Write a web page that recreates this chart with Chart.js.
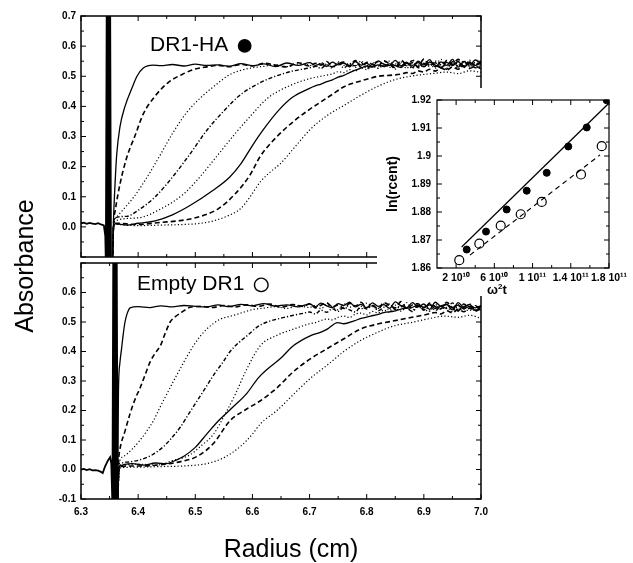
<!DOCTYPE html>
<html lang="en">
<head>
<meta charset="UTF-8">
<title>Sedimentation velocity: DR1-HA and empty DR1</title>
<script src="https://cdn.jsdelivr.net/npm/chart.js"></script>
<style>
    body {
        margin: 0;
        width: 633px;
        height: 563px;
        position: relative;
        overflow: hidden;
        background: #fff;
        color: #000;
        font-family: "Liberation Sans", Arial, sans-serif;
    }
    canvas { position: absolute; }
    #topChart { left: 0; top: 0; }
    #bottomChart { left: 0; top: 252px; }
    #insetChart { left: 377px; top: 88px; background: #fff; }
    .lbl { position: absolute; white-space: nowrap; }
    .panel { font-size: 21px; line-height: 21px; }
    .sym { font-size: 32px; line-height: 32px; }
    #ylab { left: -76px; top: 252px; width: 200px; height: 28px; line-height: 28px; text-align: center; font-size: 25px; transform: rotate(-90deg); }
    #xlab { left: 191px; top: 534px; width: 200px; text-align: center; font-size: 25px; line-height: 28px; }
    #insetX { left: 487px; top: 282px; font-size: 13px; font-weight: bold; }
    #insetX sup { font-size: 8px; vertical-align: 5px; line-height: 0; }
</style>
</head>
<body>
<canvas id="topChart" width="500" height="268"></canvas>
<canvas id="bottomChart" width="500" height="311"></canvas>
<canvas id="insetChart" width="256" height="208"></canvas>
<div class="lbl panel" style="left:150px;top:33px">DR1-HA</div>
<div class="lbl sym" style="left:235px;top:28px">●</div>
<div class="lbl panel" style="left:137px;top:272px">Empty DR1</div>
<div class="lbl sym" style="left:251px;top:266px;font-size:34px;line-height:34px">○</div>
<div class="lbl" id="ylab">Absorbance</div>
<div class="lbl" id="xlab">Radius (cm)</div>
<div class="lbl" id="insetX">ω<sup>2</sup>t</div>

<script>
// axis ticks
const radiusTicks = [6.3, 6.4, 6.5, 6.6, 6.7, 6.8, 6.9, 7.0];
const absTicks = [-0.1, 0.0, 0.1, 0.2, 0.3, 0.4, 0.5, 0.6, 0.7];
const omegaTicks = [2e10, 6e10, 1e11, 1.4e11, 1.8e11];
const omegaTickLabels = ['2 10¹⁰', '6 10¹⁰', '1 10¹¹', '1.4 10¹¹', '1.8 10¹¹'];
const lnTicks = [1.86, 1.87, 1.88, 1.89, 1.90, 1.91, 1.92];

// line style of each scan (same order in both panels)
const scanStyles = ['solid', 'dash', 'dot', 'dashdot', 'dot', 'solid', 'dash', 'dot'];

// DR1-HA panel: [radius (cm), absorbance]
const haMeniscus = [[6.300,0.012],[6.305,0.014],[6.310,0.010],[6.315,0.013],[6.320,0.011],[6.325,0.009],[6.330,0.012],[6.335,0.008],[6.340,0.005],[6.3425,-0.03],[6.3435,-0.12],[6.345,0.75],[6.3465,-0.12],[6.348,0.75],[6.3495,-0.12],[6.351,0.75],[6.3525,-0.12]];
const haScan1 = [[6.355,-0.12],[6.357,0.03],[6.359,0.12],[6.3625,0.24],[6.368,0.33],[6.377,0.40],[6.389,0.46],[6.398,0.50],[6.409,0.527],[6.426,0.537],[6.44,0.535],[6.46,0.539],[6.48,0.534],[6.50,0.540],[6.52,0.536],[6.54,0.538],[6.56,0.533],[6.58,0.542],[6.60,0.535],[6.62,0.541],[6.64,0.532],[6.66,0.544],[6.68,0.536],[6.70,0.545],[6.71,0.536],[6.72,0.541],[6.73,0.533],[6.74,0.547],[6.75,0.538],[6.76,0.544],[6.77,0.531],[6.78,0.549],[6.79,0.537],[6.80,0.543],[6.81,0.532],[6.82,0.551],[6.83,0.540],[6.84,0.535],[6.85,0.553],[6.86,0.534],[6.87,0.547],[6.88,0.529],[6.89,0.550],[6.90,0.538],[6.91,0.555],[6.92,0.531],[6.93,0.548],[6.94,0.536],[6.95,0.556],[6.96,0.530],[6.97,0.549],[6.98,0.537],[6.99,0.554],[7.00,0.541]];
const haScan2 = [[6.355,-0.12],[6.357,0.01],[6.360,0.055],[6.368,0.14],[6.380,0.23],[6.395,0.305],[6.409,0.375],[6.430,0.435],[6.453,0.48],[6.477,0.506],[6.50,0.524],[6.52,0.531],[6.54,0.536],[6.56,0.532],[6.58,0.539],[6.60,0.534],[6.62,0.543],[6.64,0.537],[6.66,0.531],[6.68,0.545],[6.70,0.534],[6.71,0.543],[6.72,0.537],[6.73,0.549],[6.74,0.532],[6.75,0.541],[6.76,0.547],[6.77,0.535],[6.78,0.552],[6.79,0.530],[6.80,0.546],[6.81,0.539],[6.82,0.533],[6.83,0.551],[6.84,0.541],[6.85,0.528],[6.86,0.553],[6.87,0.539],[6.88,0.545],[6.89,0.532],[6.90,0.557],[6.91,0.536],[6.92,0.545],[6.93,0.529],[6.94,0.552],[6.95,0.540],[6.96,0.556],[6.97,0.533],[6.98,0.547],[6.99,0.528],[7.00,0.550]];
const haScan3 = [[6.355,-0.12],[6.357,0.0],[6.3626,0.033],[6.375,0.06],[6.392,0.098],[6.415,0.163],[6.439,0.24],[6.462,0.316],[6.485,0.38],[6.51,0.43],[6.535,0.47],[6.56,0.505],[6.58,0.52],[6.60,0.528],[6.62,0.533],[6.64,0.538],[6.66,0.532],[6.68,0.541],[6.70,0.537],[6.71,0.530],[6.72,0.545],[6.73,0.538],[6.74,0.527],[6.75,0.548],[6.76,0.536],[6.77,0.543],[6.78,0.529],[6.79,0.551],[6.80,0.535],[6.81,0.546],[6.82,0.527],[6.83,0.544],[6.84,0.550],[6.85,0.533],[6.86,0.542],[6.87,0.526],[6.88,0.554],[6.89,0.539],[6.90,0.531],[6.91,0.548],[6.92,0.541],[6.93,0.556],[6.94,0.527],[6.95,0.545],[6.96,0.535],[6.97,0.552],[6.98,0.531],[6.99,0.546],[7.00,0.536]];
const haScan4 = [[6.355,-0.12],[6.357,0.0],[6.36,0.03],[6.38,0.035],[6.40,0.055],[6.43,0.10],[6.46,0.165],[6.49,0.24],[6.52,0.32],[6.55,0.385],[6.58,0.44],[6.61,0.475],[6.64,0.50],[6.67,0.517],[6.70,0.528],[6.71,0.533],[6.72,0.526],[6.73,0.538],[6.74,0.531],[6.75,0.543],[6.76,0.528],[6.77,0.540],[6.78,0.535],[6.79,0.546],[6.80,0.526],[6.81,0.541],[6.82,0.548],[6.83,0.532],[6.84,0.539],[6.85,0.524],[6.86,0.547],[6.87,0.535],[6.88,0.552],[6.89,0.528],[6.90,0.543],[6.91,0.533],[6.92,0.550],[6.93,0.537],[6.94,0.523],[6.95,0.548],[6.96,0.540],[6.97,0.529],[6.98,0.553],[6.99,0.536],[7.00,0.545]];
const haScan5 = [[6.355,-0.12],[6.357,0.0],[6.36,0.02],[6.40,0.03],[6.44,0.06],[6.48,0.11],[6.51,0.17],[6.54,0.24],[6.57,0.31],[6.60,0.375],[6.625,0.425],[6.65,0.455],[6.68,0.48],[6.70,0.492],[6.72,0.50],[6.74,0.508],[6.75,0.515],[6.76,0.512],[6.77,0.522],[6.78,0.518],[6.79,0.528],[6.80,0.522],[6.81,0.533],[6.82,0.526],[6.83,0.537],[6.84,0.529],[6.85,0.541],[6.86,0.531],[6.87,0.538],[6.88,0.526],[6.89,0.545],[6.90,0.533],[6.91,0.540],[6.92,0.527],[6.93,0.548],[6.94,0.534],[6.95,0.542],[6.96,0.525],[6.97,0.547],[6.98,0.532],[6.99,0.543],[7.00,0.529]];
const haScan6 = [[6.355,-0.12],[6.357,0.0],[6.36,0.01],[6.38,0.006],[6.40,0.012],[6.43,0.02],[6.46,0.04],[6.49,0.07],[6.53,0.12],[6.56,0.165],[6.58,0.21],[6.60,0.27],[6.62,0.325],[6.645,0.385],[6.67,0.43],[6.70,0.46],[6.71,0.468],[6.72,0.474],[6.73,0.482],[6.74,0.488],[6.75,0.497],[6.76,0.503],[6.77,0.512],[6.78,0.520],[6.79,0.527],[6.80,0.534],[6.81,0.530],[6.82,0.538],[6.83,0.533],[6.84,0.541],[6.85,0.535],[6.86,0.529],[6.87,0.543],[6.88,0.536],[6.89,0.545],[6.90,0.531],[6.91,0.547],[6.92,0.537],[6.93,0.528],[6.94,0.546],[6.95,0.535],[6.96,0.549],[6.97,0.530],[6.98,0.544],[6.99,0.536],[7.00,0.548]];
const haScan7 = [[6.355,-0.12],[6.357,0.0],[6.36,0.012],[6.40,0.008],[6.44,0.015],[6.47,0.02],[6.50,0.03],[6.54,0.06],[6.57,0.11],[6.595,0.17],[6.614,0.235],[6.643,0.30],[6.672,0.35],[6.70,0.39],[6.72,0.415],[6.74,0.44],[6.76,0.465],[6.78,0.479],[6.80,0.49],[6.82,0.50],[6.84,0.503],[6.86,0.507],[6.87,0.512],[6.88,0.509],[6.89,0.518],[6.90,0.514],[6.91,0.523],[6.92,0.517],[6.93,0.527],[6.94,0.520],[6.95,0.531],[6.96,0.523],[6.97,0.535],[6.98,0.526],[6.99,0.533],[7.00,0.525]];
const haScan8 = [[6.355,-0.12],[6.357,0.0],[6.36,0.008],[6.40,0.004],[6.44,0.006],[6.48,0.008],[6.51,0.012],[6.532,0.02],[6.555,0.035],[6.579,0.06],[6.596,0.10],[6.614,0.15],[6.633,0.185],[6.649,0.21],[6.672,0.26],[6.702,0.325],[6.731,0.37],[6.76,0.403],[6.789,0.436],[6.819,0.466],[6.848,0.488],[6.877,0.50],[6.90,0.506],[6.92,0.510],[6.94,0.514],[6.96,0.509],[6.98,0.518],[7.00,0.513]];

// Empty DR1 panel: [radius (cm), absorbance]
const emptyMeniscus = [[6.300,0.0],[6.305,0.002],[6.310,-0.002],[6.315,0.001],[6.320,-0.003],[6.325,-0.002],[6.330,-0.004],[6.335,-0.008],[6.338,-0.012],[6.342,0.01],[6.347,0.03],[6.351,0.042],[6.353,0.02],[6.355,-0.12],[6.3565,0.75],[6.358,-0.12],[6.3595,0.75],[6.361,-0.12],[6.3625,0.75],[6.364,-0.12]];
const emptyScan1 = [[6.364,-0.12],[6.3655,0.26],[6.368,0.36],[6.371,0.41],[6.374,0.46],[6.377,0.50],[6.381,0.53],[6.386,0.548],[6.40,0.552],[6.42,0.549],[6.44,0.555],[6.46,0.551],[6.48,0.556],[6.50,0.553],[6.52,0.551],[6.54,0.558],[6.56,0.552],[6.58,0.560],[6.60,0.555],[6.62,0.562],[6.64,0.554],[6.66,0.558],[6.68,0.551],[6.70,0.561],[6.71,0.552],[6.72,0.564],[6.73,0.555],[6.74,0.549],[6.75,0.562],[6.76,0.556],[6.77,0.567],[6.78,0.551],[6.79,0.560],[6.80,0.548],[6.81,0.565],[6.82,0.553],[6.83,0.559],[6.84,0.546],[6.85,0.568],[6.86,0.555],[6.87,0.549],[6.88,0.566],[6.89,0.551],[6.90,0.561],[6.91,0.543],[6.92,0.567],[6.93,0.553],[6.94,0.559],[6.95,0.541],[6.96,0.566],[6.97,0.550],[6.98,0.560],[6.99,0.539],[7.00,0.552]];
const emptyScan2 = [[6.364,-0.12],[6.366,0.03],[6.368,0.066],[6.377,0.13],[6.386,0.19],[6.395,0.24],[6.4035,0.277],[6.412,0.32],[6.421,0.365],[6.43,0.395],[6.439,0.42],[6.447,0.46],[6.456,0.50],[6.465,0.518],[6.474,0.53],[6.491,0.55],[6.51,0.553],[6.53,0.549],[6.55,0.556],[6.57,0.551],[6.59,0.558],[6.61,0.553],[6.63,0.561],[6.65,0.550],[6.67,0.559],[6.69,0.553],[6.70,0.562],[6.71,0.548],[6.72,0.557],[6.73,0.565],[6.74,0.551],[6.75,0.558],[6.76,0.546],[6.77,0.563],[6.78,0.554],[6.79,0.567],[6.80,0.549],[6.81,0.558],[6.82,0.544],[6.83,0.566],[6.84,0.556],[6.85,0.548],[6.86,0.569],[6.87,0.545],[6.88,0.558],[6.89,0.562],[6.90,0.540],[6.91,0.564],[6.92,0.552],[6.93,0.545],[6.94,0.567],[6.95,0.549],[6.96,0.538],[6.97,0.561],[6.98,0.547],[6.99,0.556],[7.00,0.536]];
const emptyScan3 = [[6.364,-0.12],[6.367,0.02],[6.374,0.044],[6.39,0.07],[6.4035,0.10],[6.415,0.13],[6.427,0.166],[6.438,0.21],[6.45,0.255],[6.462,0.30],[6.474,0.343],[6.486,0.385],[6.497,0.42],[6.508,0.45],[6.52,0.476],[6.532,0.495],[6.544,0.51],[6.558,0.518],[6.573,0.526],[6.587,0.535],[6.602,0.543],[6.62,0.547],[6.64,0.552],[6.66,0.546],[6.68,0.555],[6.70,0.549],[6.71,0.557],[6.72,0.545],[6.73,0.559],[6.74,0.552],[6.75,0.541],[6.76,0.562],[6.77,0.550],[6.78,0.557],[6.79,0.543],[6.80,0.564],[6.81,0.552],[6.82,0.546],[6.83,0.561],[6.84,0.539],[6.85,0.557],[6.86,0.550],[6.87,0.566],[6.88,0.542],[6.89,0.554],[6.90,0.560],[6.91,0.537],[6.92,0.559],[6.93,0.548],[6.94,0.564],[6.95,0.540],[6.96,0.553],[6.97,0.545],[6.98,0.562],[6.99,0.536],[7.00,0.550]];
const emptyScan4 = [[6.364,-0.12],[6.367,0.01],[6.38,0.025],[6.4035,0.033],[6.425,0.05],[6.444,0.077],[6.46,0.11],[6.474,0.144],[6.489,0.19],[6.503,0.232],[6.518,0.277],[6.532,0.32],[6.547,0.36],[6.561,0.40],[6.576,0.43],[6.591,0.454],[6.61,0.485],[6.626,0.50],[6.65,0.513],[6.67,0.522],[6.69,0.53],[6.70,0.534],[6.71,0.527],[6.72,0.540],[6.73,0.533],[6.74,0.545],[6.75,0.536],[6.76,0.550],[6.77,0.541],[6.78,0.534],[6.79,0.553],[6.80,0.544],[6.81,0.556],[6.82,0.538],[6.83,0.550],[6.84,0.561],[6.85,0.542],[6.86,0.555],[6.87,0.547],[6.88,0.536],[6.89,0.559],[6.90,0.548],[6.91,0.562],[6.92,0.539],[6.93,0.553],[6.94,0.546],[6.95,0.565],[6.96,0.537],[6.97,0.551],[6.98,0.558],[6.99,0.541],[7.00,0.555]];
const emptyScan5 = [[6.364,-0.12],[6.367,0.01],[6.40,0.018],[6.433,0.015],[6.46,0.03],[6.491,0.05],[6.51,0.08],[6.532,0.12],[6.55,0.18],[6.57,0.255],[6.59,0.34],[6.614,0.42],[6.643,0.455],[6.672,0.476],[6.70,0.494],[6.71,0.498],[6.72,0.505],[6.73,0.510],[6.74,0.507],[6.75,0.516],[6.76,0.520],[6.77,0.515],[6.78,0.527],[6.79,0.530],[6.80,0.524],[6.81,0.536],[6.82,0.531],[6.83,0.540],[6.84,0.533],[6.85,0.545],[6.86,0.537],[6.87,0.548],[6.88,0.535],[6.89,0.551],[6.90,0.542],[6.91,0.537],[6.92,0.555],[6.93,0.543],[6.94,0.550],[6.95,0.535],[6.96,0.558],[6.97,0.544],[6.98,0.539],[6.99,0.556],[7.00,0.541]];
const emptyScan6 = [[6.364,-0.12],[6.367,0.01],[6.39,0.02],[6.41,0.015],[6.43,0.022],[6.45,0.02],[6.462,0.028],[6.48,0.045],[6.50,0.075],[6.52,0.12],[6.541,0.166],[6.565,0.21],[6.591,0.26],[6.61,0.31],[6.626,0.34],[6.649,0.376],[6.672,0.42],[6.702,0.454],[6.72,0.466],[6.731,0.476],[6.749,0.498],[6.76,0.494],[6.778,0.504],[6.79,0.512],[6.807,0.520],[6.82,0.526],[6.83,0.532],[6.848,0.537],[6.86,0.544],[6.877,0.548],[6.89,0.556],[6.90,0.550],[6.91,0.558],[6.92,0.546],[6.93,0.554],[6.94,0.560],[6.95,0.549],[6.96,0.557],[6.97,0.545],[6.98,0.553],[6.99,0.548],[7.00,0.556]];
const emptyScan7 = [[6.364,-0.12],[6.367,0.01],[6.40,0.012],[6.444,0.017],[6.47,0.025],[6.503,0.044],[6.532,0.089],[6.561,0.166],[6.59,0.205],[6.614,0.233],[6.643,0.277],[6.672,0.332],[6.702,0.376],[6.731,0.41],[6.76,0.443],[6.789,0.476],[6.819,0.493],[6.848,0.504],[6.877,0.515],[6.906,0.526],[6.92,0.532],[6.93,0.527],[6.94,0.538],[6.95,0.531],[6.96,0.543],[6.97,0.535],[6.98,0.547],[6.99,0.538],[7.00,0.544]];
const emptyScan8 = [[6.364,-0.12],[6.367,0.005],[6.40,0.008],[6.44,0.01],[6.48,0.012],[6.52,0.02],[6.55,0.04],[6.58,0.08],[6.60,0.12],[6.614,0.155],[6.643,0.20],[6.672,0.255],[6.702,0.31],[6.731,0.354],[6.76,0.40],[6.789,0.437],[6.819,0.465],[6.848,0.487],[6.877,0.498],[6.906,0.51],[6.936,0.52],[6.96,0.516],[6.98,0.523],[7.00,0.512]];

// inset: ln(r of boundary centre) against omega^2 t
const haOmega2t = [3.11e10, 5.13e10, 7.29e10, 9.39e10, 1.148e11, 1.374e11, 1.567e11, 1.776e11];
const haLnR = [1.8666, 1.8730, 1.8809, 1.8876, 1.8940, 1.9034, 1.9102, 1.9199];
const emptyOmega2t = [2.33e10, 4.43e10, 6.67e10, 8.76e10, 1.096e11, 1.507e11, 1.724e11];
const emptyLnR = [1.8628, 1.8687, 1.8751, 1.8792, 1.8836, 1.8934, 1.9035];
const haFit = [[2.58e10, 1.8675], [1.803e11, 1.9190]];
const emptyFit = [[3.45e10, 1.8646], [1.706e11, 1.9004]];

const haScans = [haScan1, haScan2, haScan3, haScan4, haScan5, haScan6, haScan7, haScan8];
const emptyScans = [emptyScan1, emptyScan2, emptyScan3, emptyScan4, emptyScan5, emptyScan6, emptyScan7, emptyScan8];

const FONT = '"Liberation Sans", Arial, sans-serif';
const dashFor = { solid: [], dash: [5, 3], dot: [1.2, 2.2], dashdot: [4, 2, 1.2, 2] };
const widthFor = { solid: 1.3, dash: 1.6, dot: 1.2, dashdot: 1.4 };

// box around the plot with inward major and minor ticks on all four sides
const frameTicks = {
    id: 'frameTicks',
    afterDatasetsDraw(chart, args, opts) {
        const { ctx, chartArea: a } = chart;
        const xs = chart.scales.x, ys = chart.scales.y;
        const mids = vals => vals.slice(1).map((v, i) => (v + vals[i]) / 2);
        const mark = (scale, vals, len, horizontal) => {
            vals.forEach(v => {
                const p = scale.getPixelForValue(v);
                ctx.beginPath();
                if (horizontal) {
                    ctx.moveTo(p, a.bottom); ctx.lineTo(p, a.bottom - len);
                    ctx.moveTo(p, a.top); ctx.lineTo(p, a.top + len);
                } else {
                    ctx.moveTo(a.left, p); ctx.lineTo(a.left + len, p);
                    ctx.moveTo(a.right, p); ctx.lineTo(a.right - len, p);
                }
                ctx.stroke();
            });
        };
        ctx.save();
        ctx.strokeStyle = '#000';
        ctx.lineWidth = 1;
        mark(xs, opts.x, 5, true);
        mark(xs, mids(opts.x), 3, true);
        mark(ys, opts.y, 5, false);
        mark(ys, mids(opts.y), 3, false);
        ctx.lineWidth = opts.border;
        ctx.strokeRect(a.left, a.top, a.right - a.left, a.bottom - a.top);
        ctx.restore();
    }
};

function scanSets(meniscus, scans) {
    const sets = [{ data: meniscus, borderColor: '#000', borderWidth: 1.8, pointRadius: 0, tension: 0 }];
    scans.forEach((d, i) => {
        const st = scanStyles[i];
        sets.push({
            data: d,
            borderColor: '#000',
            borderWidth: widthFor[st],
            borderDash: dashFor[st],
            pointRadius: 0,
            cubicInterpolationMode: 'monotone'
        });
    });
    return sets;
}

function panel(canvasId, meniscus, scans, opts) {
    new Chart(document.getElementById(canvasId), {
        type: 'line',
        data: { datasets: scanSets(meniscus, scans) },
        plugins: [frameTicks],
        options: {
            responsive: false,
            animation: false,
            events: [],
            layout: { padding: opts.padding },
            plugins: {
                legend: { display: false },
                tooltip: { enabled: false },
                frameTicks: { x: radiusTicks, y: absTicks, border: 1.5 }
            },
            scales: {
                x: {
                    type: 'linear',
                    min: 6.3,
                    max: 7.0,
                    display: opts.showX,
                    grid: { display: false, drawTicks: false },
                    border: { display: false },
                    afterBuildTicks: s => { s.ticks = radiusTicks.map(v => ({ value: v })); },
                    afterFit: s => { if (opts.showX) s.height = 64; },
                    ticks: {
                        padding: 7,
                        maxRotation: 0,
                        autoSkip: false,
                        color: '#000',
                        font: { family: FONT, size: 10, weight: 'bold' },
                        callback: v => Number(v).toFixed(1)
                    }
                },
                y: {
                    type: 'linear',
                    min: -0.1,
                    max: 0.7,
                    grid: { display: false, drawTicks: false },
                    border: { display: false },
                    afterBuildTicks: s => { s.ticks = absTicks.map(v => ({ value: v })); },
                    afterFit: s => { s.width = 81; },
                    ticks: {
                        padding: 5,
                        color: '#000',
                        font: { family: FONT, size: 10, weight: 'bold' },
                        callback: opts.yLabel
                    }
                }
            }
        }
    });
}

panel('topChart', haMeniscus, haScans, {
    padding: { top: 16, right: 19, bottom: 8, left: 0 },
    showX: false,
    yLabel: v => (v < -0.05 ? '' : Number(v).toFixed(1))
});

panel('bottomChart', emptyMeniscus, emptyScans, {
    padding: { top: 8, right: 19, bottom: 0, left: 0 },
    showX: true,
    yLabel: v => (v > 0.65 ? '' : Number(v).toFixed(1))
});

// inset
new Chart(document.getElementById('insetChart'), {
    type: 'scatter',
    data: {
        datasets: [
            {
                type: 'line', data: haFit, borderColor: '#000', borderWidth: 1.2,
                pointRadius: 0, tension: 0
            },
            {
                type: 'line', data: emptyFit, borderColor: '#000', borderWidth: 1.2,
                borderDash: [5, 4], pointRadius: 0, tension: 0
            },
            {
                data: haOmega2t.map((x, i) => ({ x: x, y: haLnR[i] })),
                pointRadius: 3.5, pointBackgroundColor: '#000', pointBorderColor: '#000', pointBorderWidth: 1
            },
            {
                data: emptyOmega2t.map((x, i) => ({ x: x, y: emptyLnR[i] })),
                pointRadius: 4.5, pointBackgroundColor: '#fff', pointBorderColor: '#000', pointBorderWidth: 1.2
            }
        ]
    },
    plugins: [frameTicks],
    options: {
        responsive: false,
        animation: false,
        events: [],
        layout: { padding: { top: 9, right: 24, bottom: 0, left: 0 } },
        plugins: {
            legend: { display: false },
            tooltip: { enabled: false },
            frameTicks: { x: omegaTicks, y: lnTicks, border: 1.2 }
        },
        scales: {
            x: {
                type: 'linear',
                min: 0,
                max: 1.8e11,
                grid: { display: false, drawTicks: false },
                border: { display: false },
                afterBuildTicks: s => { s.ticks = omegaTicks.map(v => ({ value: v })); },
                afterFit: s => { s.height = 28; },
                ticks: {
                    padding: 4,
                    maxRotation: 0,
                    autoSkip: false,
                    color: '#000',
                    font: { family: FONT, size: 10.5, weight: 'bold' },
                    callback: (v, i) => omegaTickLabels[i]
                }
            },
            y: {
                type: 'linear',
                min: 1.86,
                max: 1.92,
                grid: { display: false, drawTicks: false },
                border: { display: false },
                afterBuildTicks: s => { s.ticks = lnTicks.map(v => ({ value: v })); },
                afterFit: s => { s.width = 60; },
                title: {
                    display: true,
                    text: 'ln(rcent)',
                    color: '#000',
                    padding: { top: 8, bottom: 0 },
                    font: { family: FONT, size: 14, weight: 'bold' }
                },
                ticks: {
                    padding: 6,
                    color: '#000',
                    font: { family: FONT, size: 10, weight: 'bold' },
                    callback: v => String(+Number(v).toFixed(2))
                }
            }
        }
    }
});
</script>
</body>
</html>
